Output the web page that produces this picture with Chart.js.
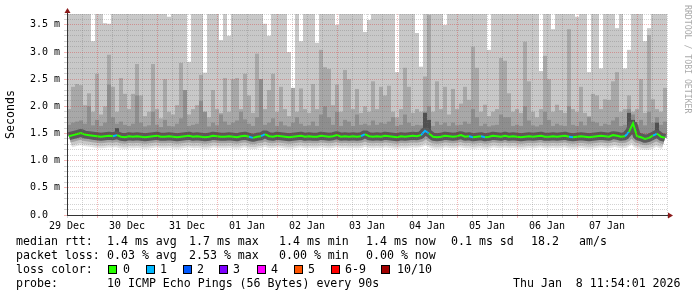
<!DOCTYPE html>
<html><head><meta charset="utf-8">
<script src="https://cdn.jsdelivr.net/npm/chart.js@4.4.1/dist/chart.umd.min.js"></script>
<style>
html,body{margin:0;padding:0;background:#fff;}
#wrap{position:relative;width:697px;height:297px;overflow:hidden;font-family:'DejaVu Sans Mono',monospace;}
canvas{position:absolute;left:0;top:0;}
.t{position:absolute;font-size:11.6px;line-height:14px;white-space:pre;color:#000;}
.box{position:absolute;width:7px;height:7px;border:1px solid #000;top:265px;}
#wm{position:absolute;left:683px;top:5px;writing-mode:vertical-rl;font-size:8.2px;line-height:9px;color:#aaaaaa;white-space:pre;}
</style></head>
<body>
<div id="wrap">
<canvas id="c" width="697" height="297"></canvas>
<div id="wm">RRDTOOL / TOBI OETIKER</div>
<div class="t" style="left:16px;top:234px">median rtt:</div>
<div class="t" style="left:107px;top:234px">1.4 ms avg</div>
<div class="t" style="left:189px;top:234px">1.7 ms max</div>
<div class="t" style="left:279px;top:234px">1.4 ms min</div>
<div class="t" style="left:366px;top:234px">1.4 ms now</div>
<div class="t" style="left:451px;top:234px">0.1 ms sd</div>
<div class="t" style="left:531px;top:234px">18.2</div>
<div class="t" style="left:579px;top:234px">am/s</div>
<div class="t" style="left:16px;top:248px">packet loss:</div>
<div class="t" style="left:107px;top:248px">0.03 % avg</div>
<div class="t" style="left:189px;top:248px">2.53 % max</div>
<div class="t" style="left:279px;top:248px">0.00 % min</div>
<div class="t" style="left:366px;top:248px">0.00 % now</div>
<div class="t" style="left:16px;top:262px">loss color:</div>
<div id="lossLegend"></div>
<div class="t" style="left:16px;top:276px">probe:</div>
<div class="t" style="left:107px;top:276px">10 ICMP Echo Pings (56 Bytes) every 90s</div>
<div class="t" style="left:513px;top:276px">Thu Jan  8 11:54:01 2026</div>
</div>
<script>
// ---- data (bins of 1.6 h starting 29 Dec 12:00) ----
const binHours = 1.6;
const dayLabels = ['29 Dec','30 Dec','31 Dec','01 Jan','02 Jan','03 Jan','04 Jan','05 Jan','06 Jan','07 Jan'];
const lossLabels = ['0','1','2','3','4','5','6-9','10/10'];
const lossColors = ['#26ff00','#00b8ff','#0059ff','#7e00ff','#ff00ff','#ff5500','#ff0000','#a10000'];

const median = [
1.45,1.47,1.49,1.51,1.48,1.47,1.46,1.45,1.44,1.45,
1.46,1.45,1.47,1.44,1.43,1.45,1.44,1.45,1.44,1.43,
1.44,1.45,1.46,1.44,1.44,1.45,1.44,1.43,1.44,1.45,
1.46,1.44,1.45,1.44,1.43,1.44,1.46,1.45,1.44,1.44,
1.45,1.44,1.43,1.45,1.46,1.44,1.42,1.44,1.45,1.49,
1.45,1.44,1.46,1.45,1.44,1.43,1.44,1.45,1.46,1.44,
1.45,1.44,1.44,1.46,1.45,1.44,1.45,1.47,1.44,1.45,
1.44,1.45,1.44,1.45,1.49,1.45,1.44,1.45,1.44,1.46,
1.45,1.44,1.43,1.45,1.44,1.45,1.46,1.45,1.47,1.55,
1.50,1.44,1.43,1.44,1.46,1.45,1.44,1.45,1.47,1.44,
1.45,1.43,1.44,1.45,1.43,1.44,1.46,1.45,1.44,1.46,
1.44,1.45,1.44,1.43,1.44,1.45,1.44,1.45,1.46,1.44,
1.44,1.45,1.44,1.45,1.46,1.44,1.43,1.44,1.45,1.44,
1.43,1.44,1.45,1.46,1.45,1.44,1.47,1.46,1.44,1.45,
1.53,1.69,1.45,1.43,1.40,1.42,1.46,1.50,1.44,1.42];

const p75 = [
1.66,1.70,1.72,1.74,1.68,2.00,1.65,1.75,1.64,1.70,
2.40,1.80,1.68,1.72,1.66,1.64,1.68,2.20,1.70,1.63,
1.65,1.90,1.66,1.62,1.75,1.64,1.63,1.68,1.78,2.30,
1.64,1.66,1.68,2.10,1.90,1.63,1.70,1.65,1.85,1.72,
1.66,1.70,1.74,1.90,1.76,1.68,1.64,1.80,2.50,1.66,
1.70,1.78,1.64,1.72,1.65,1.63,1.70,1.80,1.68,1.64,
1.65,1.72,1.64,1.85,2.00,1.80,1.66,1.90,1.64,1.75,
1.72,1.64,1.85,1.66,1.68,1.65,1.74,1.66,1.70,1.68,
1.72,1.80,1.64,1.66,1.85,1.70,1.64,1.66,1.65,1.90,
2.00,1.64,1.72,1.66,1.70,1.64,1.70,1.65,1.66,1.72,
1.68,1.95,1.80,1.64,1.68,1.63,1.65,1.66,1.85,1.80,
1.80,1.64,1.66,1.64,2.00,1.74,1.65,1.63,1.66,1.90,
1.75,1.64,1.68,1.65,1.64,2.00,1.66,1.64,1.72,1.65,
1.80,1.72,1.70,1.64,1.68,1.66,1.74,1.80,1.64,1.66,
1.95,1.85,1.66,1.75,1.65,1.90,1.70,1.80,1.66,1.72];

const p90 = [
1.95,2.36,2.41,2.39,2.02,2.24,1.90,2.60,1.85,2.00,
2.95,2.36,1.90,2.52,2.23,1.95,2.23,2.78,2.20,1.82,
1.90,2.78,1.95,1.78,2.50,1.90,1.85,2.02,2.80,1.90,
1.85,1.95,2.02,2.58,1.90,1.80,2.30,1.95,1.88,2.52,
1.90,2.50,2.52,1.95,2.60,2.20,1.88,2.97,2.50,1.95,
2.30,2.60,1.90,2.36,1.95,1.82,2.34,1.90,2.33,1.95,
1.88,2.41,1.95,3.04,2.72,2.69,2.02,2.40,1.90,2.67,
2.50,1.95,2.32,1.88,2.00,1.90,2.46,1.95,2.36,2.20,
2.38,1.90,1.80,1.95,2.71,2.36,1.88,1.95,1.90,2.55,
3.68,1.90,2.46,1.95,2.36,1.85,2.32,1.95,2.05,2.36,
2.12,3.10,2.71,1.90,2.03,1.82,1.90,1.95,2.89,2.84,
2.24,1.90,1.95,1.88,3.19,2.46,1.90,1.80,1.95,2.93,
2.50,1.90,2.03,1.93,1.88,3.42,1.95,1.90,2.36,1.88,
1.82,2.23,2.20,1.95,2.13,2.12,2.46,2.63,1.90,1.95,
2.20,1.90,1.95,2.50,1.88,3.31,2.13,1.95,1.90,2.34];

const maxRtt = [
3.9,3.9,3.9,3.9,3.9,3.9,3.2,3.9,3.9,3.53,
3.52,3.9,3.9,3.9,3.9,3.9,3.9,3.9,3.9,3.9,
3.9,3.9,3.9,3.9,3.9,3.65,3.9,3.9,3.9,3.9,
2.82,3.9,3.9,3.9,2.62,3.9,3.9,3.9,3.22,3.9,
3.3,3.9,3.9,3.9,3.9,3.9,3.9,3.9,3.9,3.52,
3.3,3.9,3.9,3.9,3.9,3.0,2.3,3.9,3.2,3.9,
3.9,3.9,3.17,3.9,3.9,3.9,3.9,3.5,3.9,3.9,
3.9,3.9,3.9,3.9,3.37,3.59,3.9,3.9,3.9,3.9,
3.9,3.9,2.63,3.9,3.9,3.9,3.9,3.35,2.73,3.9,
3.9,3.9,3.9,3.9,3.5,3.9,3.9,3.9,3.9,3.9,
3.9,3.9,3.9,3.9,3.9,3.04,3.9,3.9,3.9,3.9,
3.9,3.9,3.9,3.9,3.9,3.9,3.9,3.9,2.65,3.9,
3.9,3.42,3.9,3.9,3.9,3.9,3.9,3.65,3.9,3.9,
2.63,3.9,3.9,2.7,3.9,3.9,3.9,3.44,3.9,2.7,
3.04,3.9,3.9,3.9,3.2,3.44,3.9,3.9,3.9,3.9];

const loss = [
0,0,0,0,0,0,0,0,0,0, 0,0,1,0,0,0,0,0,0,0, 0,0,0,0,0,0,0,0,0,0,
0,0,0,0,0,0,0,0,0,0, 0,0,0,0,0,0,1,0,0,1, 0,0,0,0,0,0,0,0,0,0,
0,0,0,0,0,0,0,0,0,0, 0,0,0,0,1,0,0,0,0,0, 0,0,0,0,0,0,0,0,0,1,
1,0,0,0,0,0,0,0,0,0, 0,1,0,0,1,0,0,0,0,0, 0,0,0,0,0,0,0,0,0,0,
0,0,0,0,0,0,1,0,0,0, 0,0,0,0,0,0,0,0,0,0, 1,0,0,0,0,0,0,1,0,0];

const darkBins = [12, 89, 90, 140, 141, 147];
const darkTop  = [1.60, 1.88, 1.75, 1.88, 1.75, 1.70];

// ---- helpers ----
const binX = i => (i + 0.5) * binHours;
const lossClass = n => n <= 5 ? n : (n < 10 ? 6 : 7);
const medPts = median.map((v, i) => ({x: binX(i), y: v}));
const band = top => top.map((v, i) => ({x: binX(i), y: [median[i], v]}));

// loss legend
const lossBoxX = [108,146,183,219,257,294,331,381];
const lossTextX = [123,160,197,233,271,308,345,397];
const ll = document.getElementById('lossLegend');
lossLabels.forEach((lab, k) => {
  const b = document.createElement('div'); b.className = 'box';
  b.style.left = lossBoxX[k] + 'px'; b.style.background = lossColors[k]; ll.appendChild(b);
  const t = document.createElement('div'); t.className = 't';
  t.style.left = lossTextX[k] + 'px'; t.style.top = '262px'; t.textContent = lab; ll.appendChild(t);
});

const minorGrid = 'rgba(110,110,110,0.30)';
const majorGrid = 'rgba(220,0,0,0.28)';
const FONT = "'DejaVu Sans Mono', monospace";

const lineDs = (color, width, order) => ({
  type: 'line', data: medPts, borderColor: color, borderWidth: width, pointRadius: 0,
  tension: 0, fill: false, borderJoinStyle: 'bevel', borderCapStyle: 'butt', order, clip: 0
});
const barDs = (data, color, order) => ({
  type: 'bar', data, backgroundColor: color, borderWidth: 0, grouped: false,
  barPercentage: 1, categoryPercentage: 1, inflateAmount: 0, order, clip: 0
});

const axisArrows = {
  id: 'axisArrows',
  afterDraw(chart) {
    const {ctx, chartArea: a} = chart;
    ctx.save();
    ctx.strokeStyle = '#333'; ctx.lineWidth = 1;
    ctx.beginPath();
    ctx.moveTo(a.left + 0.5, a.top); ctx.lineTo(a.left + 0.5, a.top - 3);
    ctx.moveTo(a.right, a.bottom + 0.5); ctx.lineTo(a.right + 3, a.bottom + 0.5);
    ctx.stroke();
    ctx.fillStyle = '#8b1a1a';
    ctx.beginPath();
    ctx.moveTo(a.left + 0.5, a.top - 6); ctx.lineTo(a.left - 2.5, a.top - 1); ctx.lineTo(a.left + 3.5, a.top - 1);
    ctx.closePath(); ctx.fill();
    ctx.beginPath();
    ctx.moveTo(a.right + 6, a.bottom + 0.5); ctx.lineTo(a.right + 1, a.bottom - 2.5); ctx.lineTo(a.right + 1, a.bottom + 3.5);
    ctx.closePath(); ctx.fill();
    ctx.restore();
  }
};

new Chart(document.getElementById('c'), {
  type: 'bar',
  data: {
    datasets: [
      lineDs('#e3e3e3', 23, 9),
      lineDs('#c8c8c8', 19, 8),
      barDs(band(maxRtt), '#c8c8c8', 7),
      lineDs('#a2a2a2', 13, 6),
      barDs(band(p90), '#a8a8a8', 5),
      barDs(band(p75), '#8e8e8e', 4),
      barDs(darkBins.map((b, k) => ({x: binX(b), y: [median[b], darkTop[k]]})), '#505050', 3),
      lineDs('#5a5a5a', 8, 2),
      Object.assign(lineDs('#26ff00', 2, 1), {
        borderJoinStyle: 'miter',
        segment: { borderColor: c => loss[c.p1DataIndex] > 0 ? lossColors[lossClass(loss[c.p1DataIndex])] : undefined }
      })
    ]
  },
  options: {
    responsive: false, animation: false, devicePixelRatio: 1, events: [],
    layout: { padding: { left: 0, right: 30, top: 14, bottom: 62 } },
    plugins: { legend: { display: false }, tooltip: { enabled: false } },
    scales: {
      x: {
        type: 'linear', min: 0, max: 240, offset: false,
        afterFit: s => { s.height = 20; },
        grid: { offset: false, z: 1, color: c => (c.tick && Math.round(c.tick.value) % 24 === 12) ? majorGrid : minorGrid, tickLength: 3 },
        border: { z: 2, color: '#333', dash: [1, 1] },
        ticks: {
          stepSize: 6, autoSkip: false, maxRotation: 0, padding: 2, color: '#000',
          font: { family: FONT, size: 10 },
          callback: v => (Math.round(v) % 24 === 0 && Math.round(v) / 24 < dayLabels.length) ? dayLabels[Math.round(v) / 24] : ''
        }
      },
      y: {
        type: 'linear', min: 0, max: 3.7,
        afterFit: s => { s.width = 67; },
        grid: { z: 1, color: c => (c.tick && Math.round(c.tick.value * 10) % 5 === 0) ? majorGrid : minorGrid, tickLength: 3 },
        border: { z: 2, color: '#333', dash: [1, 1] },
        title: { display: true, text: 'Seconds', color: '#000', font: { family: FONT, size: 11.6 }, padding: { top: 4, bottom: 0 } },
        ticks: {
          stepSize: 0.1, autoSkip: false, padding: 4, color: '#000',
          font: { family: FONT, size: 10 },
          callback: v => {
            const k = Math.round(v * 10);
            if (k % 5 !== 0) return '';
            return k === 0 ? '0.0  ' : (k / 10).toFixed(1) + ' m';
          }
        }
      }
    }
  },
  plugins: [axisArrows]
});
</script>
</body></html>
